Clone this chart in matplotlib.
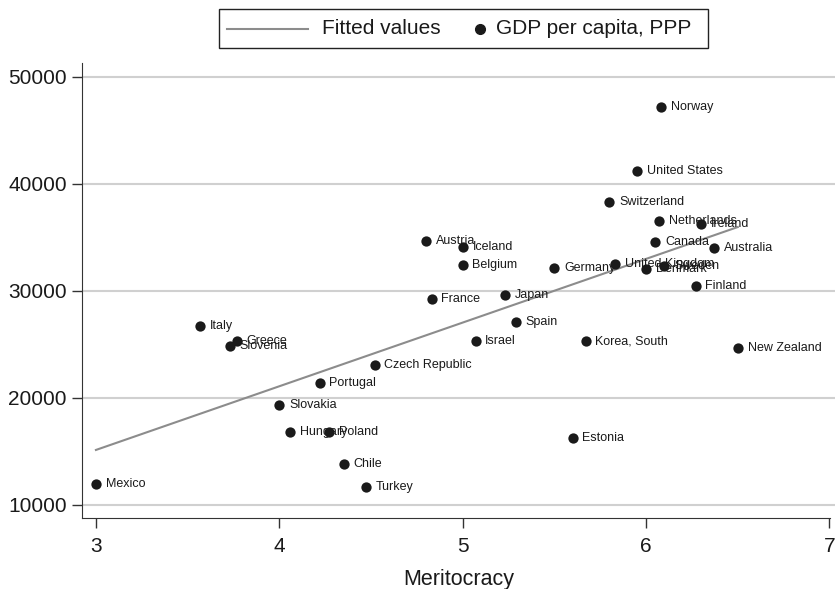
import numpy as np
import matplotlib
matplotlib.use("Agg")
import matplotlib.pyplot as plt
from matplotlib.lines import Line2D
from matplotlib.patches import Rectangle

plt.rcParams['font.family'] = ['Liberation Sans', 'DejaVu Sans']

# country, meritocracy score, GDP per capita (PPP)
countries = ['Norway', 'United States', 'Switzerland', 'Netherlands', 'Ireland',
             'Canada', 'Australia', 'Austria', 'Iceland', 'Belgium', 'Germany',
             'United Kingdom', 'Denmark', 'Sweden', 'Finland', 'France', 'Japan',
             'Spain', 'Israel', 'Korea, South', 'New Zealand', 'Italy', 'Greece',
             'Slovenia', 'Czech Republic', 'Portugal', 'Slovakia', 'Hungary',
             'Poland', 'Estonia', 'Chile', 'Mexico', 'Turkey']
meritocracy = [6.08, 5.95, 5.80, 6.07, 6.30,
               6.05, 6.37, 4.80, 5.00, 5.00, 5.50,
               5.83, 6.00, 6.10, 6.27, 4.83, 5.23,
               5.29, 5.07, 5.67, 6.50, 3.57, 3.77,
               3.73, 4.52, 4.22, 4.00, 4.06,
               4.27, 5.60, 4.35, 3.00, 4.47]
gdp = [47200, 41200, 38300, 36500, 36300,
       34600, 34000, 34700, 34100, 32400, 32150,
       32500, 32050, 32300, 30450, 29250, 29600,
       27100, 25300, 25300, 24650, 26750, 25300,
       24850, 23100, 21400, 19350, 16800,
       16800, 16250, 13850, 11950, 11700]

x = np.array(meritocracy)
y = np.array(gdp)
slope, intercept = np.polyfit(x, y, 1)
fit_x = np.array([x.min(), x.max()])
fit_y = intercept + slope * fit_x

W, H = 835, 589
fig = plt.figure(figsize=(W / 100, H / 100), dpi=100)
ax = fig.add_axes([82 / W, 1 - 518 / H, (W - 82) / W, (518 - 63) / H])

ax.plot(fit_x, fit_y, color='#8c8c8c', linewidth=1.5, zorder=2)
ax.scatter(x, y, s=55, color='#1a1a1a', zorder=3, linewidths=0)
for name, xi, yi in zip(countries, x, y):
    ax.annotate(name, (xi, yi), xytext=(7, 0), textcoords='offset points',
                ha='left', va='center', fontsize=9, color='#1a1a1a', zorder=4)

ax.set_xlim(2.924, 7.03)
ax.set_ylim(8785, 51308)
ax.set_xticks([3, 4, 5, 6, 7])
ax.set_yticks([10000, 20000, 30000, 40000, 50000])
ax.yaxis.grid(True, color='#d0d0d0', linewidth=1.5)
ax.set_axisbelow(True)
for s in ['top', 'right']:
    ax.spines[s].set_visible(False)
ax.spines['left'].set_color('#333333')
ax.spines['bottom'].set_color('#333333')
ax.spines['bottom'].set_bounds(2.924, 7.005)
ax.tick_params(axis='both', direction='out', length=7, width=1,
               color='#333333', labelsize=15, labelcolor='#1a1a1a')
ax.tick_params(axis='y', pad=4)
ax.tick_params(axis='x', pad=7)
ax.set_xlabel('Meritocracy', fontsize=15.5, labelpad=9, color='#1a1a1a')

# legend box drawn in figure pixels
def fx(px):
    return px / W

def fy(py):
    return 1 - py / H

fig.patches.append(Rectangle((fx(219), fy(48)), fx(708) - fx(219), fy(9) - fy(48),
                             transform=fig.transFigure, fill=False,
                             edgecolor='#222222', linewidth=1))
fig.lines.append(Line2D([fx(227), fx(308)], [fy(28.5), fy(28.5)],
                        transform=fig.transFigure, color='#8c8c8c', linewidth=1.5))
fig.lines.append(Line2D([fx(480)], [fy(28.5)], transform=fig.transFigure,
                        marker='o', linestyle='none', color='#1a1a1a', markersize=7))
fig.text(fx(322), fy(28.5), 'Fitted values', fontsize=15, ha='left', va='center',
         color='#1a1a1a')
fig.text(fx(496), fy(28.5), 'GDP per capita, PPP', fontsize=15, ha='left',
         va='center', color='#1a1a1a')

fig.savefig('out.png', dpi=100)
